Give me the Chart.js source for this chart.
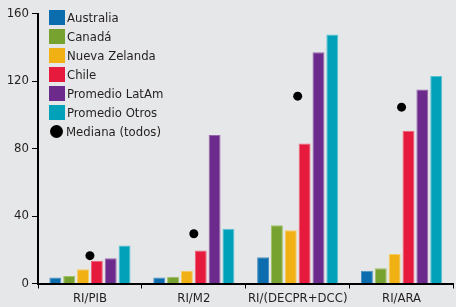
<!DOCTYPE html>
<html><head><meta charset="utf-8">
<script src="https://cdn.jsdelivr.net/npm/chart.js@4"></script>
<style>
html,body{margin:0;padding:0;background:#e6e7e8;width:456px;height:307px;overflow:hidden;}
#wrap{position:relative;width:456px;height:307px;overflow:hidden;}
canvas{position:absolute;left:0;top:0;}
#legend{position:absolute;left:49px;top:8px;font-family:"DejaVu Sans Condensed","DejaVu Sans";font-stretch:condensed;font-size:13px;color:#231f20;}
.row{display:flex;align-items:center;height:19px;}
.sw{width:16px;height:15px;margin-right:2px;flex:none;}
.dot{width:13px;height:13px;border-radius:50%;background:#000;margin:0 3px 0 1px;flex:none;}
</style></head>
<body><div id="wrap"><canvas id="c" width="458" height="307"></canvas><div id="legend"></div></div>
<script>
const categories = ['RI/PIB', 'RI/M2', 'RI/(DECPR+DCC)', 'RI/ARA'];
const australia = [3.5, 3.5, 15.5, 7.5];
const canada = [4.5, 4, 34.5, 9];
const nuevaZelanda = [8.5, 7.5, 31.5, 17.5];
const chile = [13.5, 19.5, 83, 90.5];
const promLatAm = [15, 88, 137, 115];
const promOtros = [22.5, 32.5, 147.5, 123];
const mediana = [16.5, 29.5, 111, 104.5];
const yTicks = [0, 40, 80, 120, 160];

const seriesNames = ['Australia', 'Canadá', 'Nueva Zelanda', 'Chile', 'Promedio LatAm', 'Promedio Otros'];
const seriesData = [australia, canada, nuevaZelanda, chile, promLatAm, promOtros];
const seriesColors = ['#0b6dad', '#78a22f', '#f1b014', '#e61a3d', '#6c2b8c', '#00a1b9'];
const seriesBorders = ['#4d93c4', '#a0c06a', '#f6cc5f', '#ee6079', '#9567ab', '#55c2d2'];
const medianName = 'Mediana (todos)';

const font = {family: '"DejaVu Sans Condensed","DejaVu Sans"', size: 13};

const datasets = seriesNames.map((n, i) => ({
  type: 'bar', label: n, data: seriesData[i],
  backgroundColor: seriesColors[i], borderColor: seriesBorders[i], borderWidth: 1,
  categoryPercentage: 0.8, barPercentage: 0.86, order: 2
}));
datasets.push({
  type: 'line', label: medianName, data: mediana, showLine: false,
  pointRadius: 4.5, pointHoverRadius: 4.5, pointStyle: 'circle',
  backgroundColor: '#000', borderColor: '#000', borderWidth: 0, order: 1
});

new Chart(document.getElementById('c'), {
  type: 'bar',
  data: {labels: categories, datasets},
  options: {
    responsive: false, animation: false,
    layout: {padding: {top: 13.5, right: 0, left: 0, bottom: 0}},
    plugins: {legend: {display: false}, tooltip: {enabled: false}},
    scales: {
      x: {
        grid: {display: true, drawOnChartArea: false, drawTicks: true, tickLength: 5, color: '#000', lineWidth: 1, offset: true},
        border: {display: true, color: '#000', width: 2},
        ticks: {font, color: '#231f20', padding: 2, maxRotation: 0, minRotation: 0, autoSkip: false},
        afterFit: s => { s.height = 307 - 283.5; }
      },
      y: {
        min: 0, max: 160,
        afterBuildTicks: s => { s.ticks = yTicks.map(v => ({value: v})); },
        grid: {display: true, drawOnChartArea: false, drawTicks: true, tickLength: 6, color: '#000', lineWidth: 1},
        border: {display: true, color: '#000', width: 2},
        ticks: {font, color: '#231f20', padding: 3},
        afterFit: s => { s.width = 38; }
      }
    }
  }
});

const lg = document.getElementById('legend');
seriesNames.forEach((n, i) => {
  const r = document.createElement('div'); r.className = 'row';
  const b = document.createElement('span'); b.className = 'sw'; b.style.background = seriesColors[i];
  const t = document.createElement('span'); t.textContent = n;
  r.appendChild(b); r.appendChild(t); lg.appendChild(r);
});
const r = document.createElement('div'); r.className = 'row';
const d = document.createElement('span'); d.className = 'dot';
const t = document.createElement('span'); t.textContent = medianName;
r.appendChild(d); r.appendChild(t); lg.appendChild(r);
</script></body></html>
